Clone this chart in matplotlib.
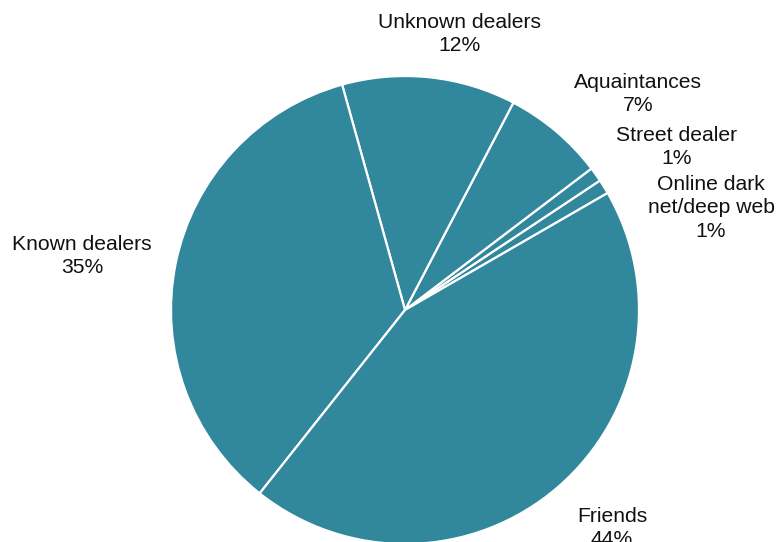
import matplotlib
matplotlib.use("Agg")
import matplotlib.pyplot as plt

# Where the sourced came from (share of respondents, %)
sources = ["Online dark\nnet/deep web", "Street dealer", "Aquaintances",
           "Unknown dealers", "Known dealers", "Friends"]
shares = [1, 1, 7, 12, 35, 44]

# Label anchor points in pie-radius units
label_xy = [(1.308, 0.436), (1.162, 0.697), (0.996, 0.923),
            (0.235, 1.180), (-1.380, 0.231), (0.885, -0.93)]

plt.rcParams["font.family"] = ["Liberation Sans", "DejaVu Sans"]

fig = plt.figure(figsize=(7.77, 5.42), dpi=100)
ax = fig.add_axes([0.2201, -0.0037, 0.6023, 0.8635])

ax.pie(shares, startangle=30, counterclock=True, radius=1,
       colors=["#31879c"] * len(shares),
       wedgeprops=dict(edgecolor="white", linewidth=1.6))
ax.set_xlim(-1, 1)
ax.set_ylim(-1, 1)
ax.set_aspect("equal")
ax.axis("off")

for name, val, (x, y) in zip(sources, shares, label_xy):
    ax.text(x, y, f"{name}\n{val}%", ha="center", va="center",
            fontsize=15.2, color="#111111", linespacing=1.28, clip_on=False)

fig.savefig("out.png", dpi=100)
